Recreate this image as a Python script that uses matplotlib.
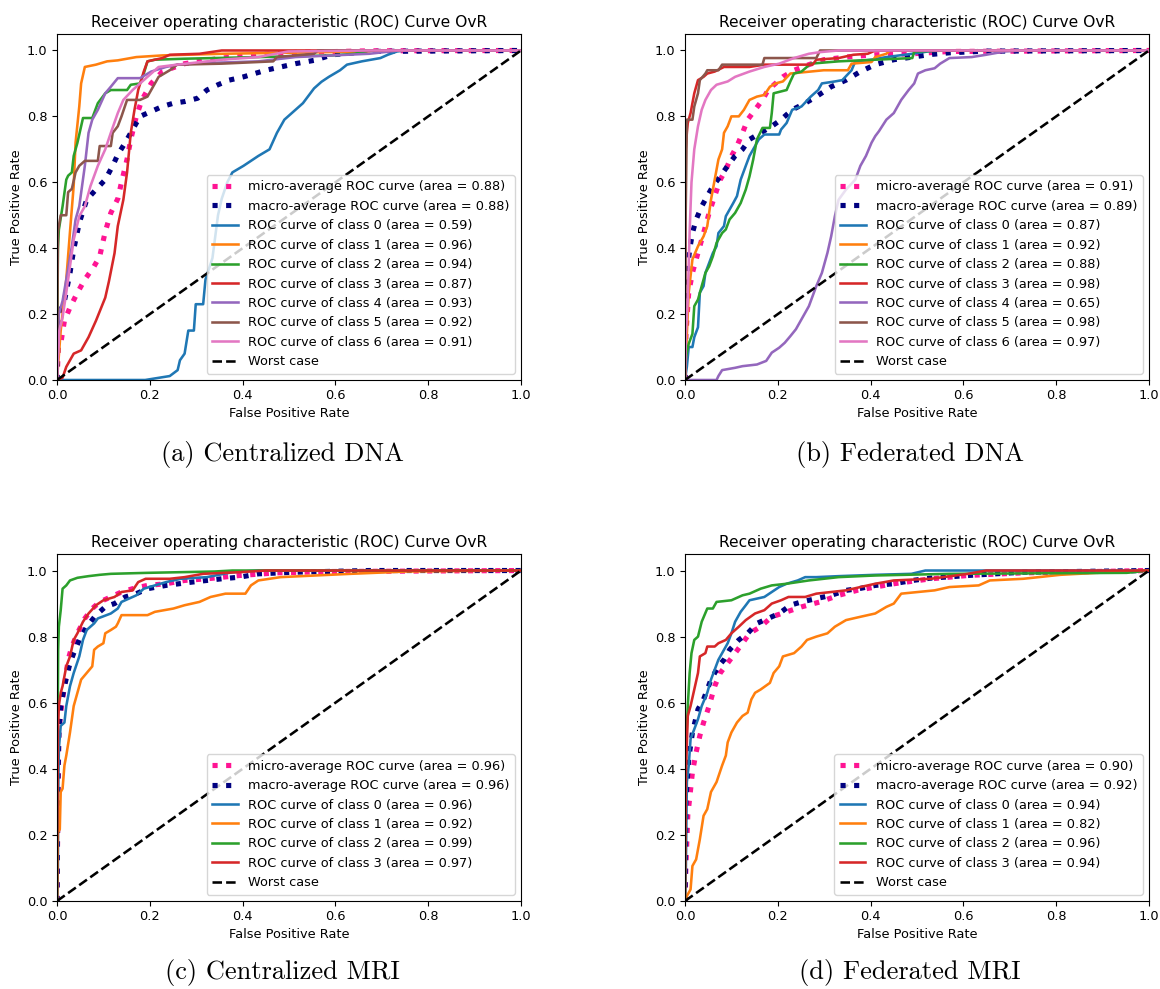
import numpy as np
import matplotlib
matplotlib.use("Agg")
import matplotlib.pyplot as plt

# ---- data: (fpr, tpr) vertices per curve ----
# (a) Centralized DNA
a_micro = [(0,0),(0.003,0.1),(0.008,0.11),(0.016,0.18),(0.028,0.22),(0.044,0.265),(0.06,0.305),(0.08,0.345),(0.092,0.375),(0.104,0.45),(0.116,0.507),(0.131,0.55),(0.139,0.6),(0.151,0.67),(0.159,0.73),(0.171,0.8),(0.183,0.85),(0.203,0.9),(0.227,0.936),(0.275,0.96),(0.355,0.977),(0.434,0.987),(0.514,0.994),(0.673,0.999),(1,1)]
a_macro = [(0,0),(0.003,0.2),(0.016,0.24),(0.028,0.325),(0.036,0.396),(0.048,0.477),(0.064,0.547),(0.084,0.578),(0.104,0.608),(0.12,0.65),(0.131,0.684),(0.147,0.72),(0.163,0.76),(0.179,0.8),(0.203,0.815),(0.227,0.83),(0.251,0.84),(0.275,0.845),(0.303,0.855),(0.323,0.88),(0.347,0.896),(0.371,0.91),(0.402,0.92),(0.426,0.93),(0.45,0.94),(0.482,0.95),(0.514,0.96),(0.554,0.97),(0.594,0.987),(0.673,0.997),(1,1)]
a_c0 = [(0,0),(0.19,0),(0.243,0.012),(0.26,0.03),(0.265,0.06),(0.275,0.08),(0.283,0.15),(0.295,0.15),(0.299,0.23),(0.315,0.23),(0.32,0.305),(0.335,0.37),(0.347,0.5),(0.355,0.55),(0.367,0.6),(0.378,0.63),(0.402,0.65),(0.434,0.68),(0.458,0.70),(0.474,0.75),(0.49,0.79),(0.506,0.81),(0.53,0.84),(0.554,0.885),(0.57,0.905),(0.586,0.92),(0.61,0.94),(0.625,0.957),(0.657,0.967),(0.697,0.977),(0.713,0.987),(0.733,0.997),(0.75,1),(1,1)]
a_c1 = [(0,0),(0.008,0.15),(0.02,0.305),(0.028,0.45),(0.036,0.59),(0.04,0.72),(0.048,0.83),(0.052,0.9),(0.06,0.95),(0.084,0.957),(0.108,0.967),(0.131,0.97),(0.171,0.98),(0.227,0.985),(0.355,0.99),(0.673,0.997),(0.68,1),(1,1)]
a_c2 = [(0,0),(0.002,0.4),(0.004,0.456),(0.012,0.527),(0.02,0.608),(0.024,0.62),(0.032,0.63),(0.036,0.68),(0.044,0.72),(0.056,0.795),(0.076,0.795),(0.088,0.84),(0.104,0.87),(0.116,0.88),(0.151,0.88),(0.159,0.896),(0.179,0.9),(0.187,0.93),(0.195,0.967),(0.211,0.972),(0.275,0.975),(0.434,0.98),(0.594,0.985),(0.641,0.99),(0.673,1),(1,1)]
a_c3 = [(0,0),(0.012,0.007),(0.02,0.04),(0.028,0.06),(0.036,0.08),(0.052,0.09),(0.068,0.13),(0.084,0.18),(0.104,0.25),(0.112,0.3),(0.124,0.385),(0.131,0.467),(0.143,0.547),(0.151,0.63),(0.159,0.75),(0.167,0.82),(0.175,0.88),(0.187,0.936),(0.195,0.967),(0.211,0.972),(0.227,0.977),(0.243,0.987),(0.307,0.99),(0.355,1),(1,1)]
a_c4 = [(0,0),(0.004,0.2),(0.012,0.24),(0.02,0.305),(0.032,0.406),(0.04,0.487),(0.048,0.527),(0.06,0.65),(0.068,0.75),(0.076,0.79),(0.088,0.82),(0.104,0.87),(0.116,0.89),(0.131,0.916),(0.179,0.916),(0.203,0.936),(0.235,0.95),(0.259,0.957),(0.323,0.962),(0.434,0.967),(0.514,0.98),(0.673,0.99),(0.737,1),(1,1)]
a_c5 = [(0,0),(0.002,0.45),(0.008,0.5),(0.02,0.5),(0.024,0.57),(0.032,0.58),(0.04,0.63),(0.048,0.65),(0.06,0.665),(0.088,0.665),(0.092,0.71),(0.116,0.71),(0.12,0.75),(0.131,0.77),(0.139,0.8),(0.151,0.85),(0.179,0.85),(0.195,0.86),(0.211,0.9),(0.219,0.92),(0.243,0.94),(0.259,0.957),(0.355,0.96),(0.466,0.967),(0.474,0.98),(0.554,0.99),(0.562,1),(1,1)]
a_c6 = [(0,0),(0.005,0.15),(0.012,0.19),(0.02,0.265),(0.028,0.345),(0.036,0.426),(0.048,0.497),(0.06,0.527),(0.072,0.588),(0.088,0.65),(0.104,0.7),(0.116,0.75),(0.131,0.81),(0.143,0.85),(0.163,0.88),(0.179,0.9),(0.203,0.93),(0.219,0.95),(0.259,0.957),(0.355,0.972),(0.434,0.98),(0.498,0.997),(0.673,1),(1,1)]
a_areas = [0.88, 0.88, 0.59, 0.96, 0.94, 0.87, 0.93, 0.92, 0.91]

# (b) Federated DNA
b_micro = [(0,0),(0.002,0.14),(0.008,0.265),(0.016,0.325),(0.028,0.386),(0.04,0.446),(0.052,0.507),(0.064,0.558),(0.076,0.608),(0.088,0.638),(0.1,0.679),(0.112,0.71),(0.124,0.75),(0.135,0.79),(0.151,0.82),(0.167,0.85),(0.179,0.88),(0.195,0.9),(0.211,0.92),(0.235,0.94),(0.267,0.957),(0.299,0.972),(0.347,0.98),(0.41,0.987),(0.49,0.99),(0.57,0.997),(1,1)]
b_macro = [(0,0),(0.002,0.245),(0.006,0.345),(0.01,0.396),(0.016,0.446),(0.024,0.487),(0.036,0.527),(0.048,0.558),(0.06,0.588),(0.076,0.618),(0.092,0.65),(0.108,0.68),(0.124,0.7),(0.139,0.73),(0.163,0.75),(0.187,0.77),(0.207,0.79),(0.231,0.82),(0.259,0.84),(0.283,0.86),(0.315,0.89),(0.347,0.91),(0.378,0.936),(0.41,0.957),(0.45,0.972),(0.49,0.98),(0.53,0.988),(0.57,0.993),(0.649,0.998),(1,1)]
b_c0 = [(0,0),(0.004,0.04),(0.008,0.1),(0.016,0.1),(0.02,0.13),(0.028,0.16),(0.032,0.265),(0.04,0.285),(0.044,0.325),(0.052,0.355),(0.06,0.385),(0.068,0.406),(0.072,0.446),(0.084,0.467),(0.088,0.497),(0.096,0.517),(0.104,0.537),(0.112,0.558),(0.12,0.608),(0.131,0.65),(0.139,0.68),(0.151,0.71),(0.159,0.73),(0.171,0.745),(0.203,0.745),(0.207,0.76),(0.219,0.78),(0.231,0.82),(0.251,0.83),(0.271,0.86),(0.287,0.88),(0.295,0.9),(0.323,0.906),(0.339,0.91),(0.359,0.94),(0.367,0.967),(0.402,0.972),(0.434,0.98),(0.49,0.99),(0.538,1),(1,1)]
b_c1 = [(0,0),(0.004,0.14),(0.008,0.265),(0.016,0.366),(0.028,0.406),(0.04,0.436),(0.048,0.467),(0.056,0.547),(0.064,0.608),(0.072,0.669),(0.08,0.7),(0.084,0.75),(0.092,0.77),(0.1,0.8),(0.116,0.8),(0.127,0.82),(0.139,0.85),(0.155,0.86),(0.171,0.865),(0.183,0.89),(0.195,0.9),(0.211,0.906),(0.227,0.93),(0.299,0.94),(0.351,0.94),(0.359,0.96),(0.402,0.965),(0.41,0.98),(0.434,0.99),(0.442,1),(1,1)]
b_c2 = [(0,0),(0.002,0.07),(0.008,0.11),(0.016,0.14),(0.02,0.224),(0.028,0.244),(0.036,0.285),(0.044,0.325),(0.052,0.345),(0.06,0.375),(0.068,0.416),(0.08,0.446),(0.088,0.457),(0.096,0.487),(0.108,0.507),(0.12,0.537),(0.131,0.578),(0.139,0.618),(0.147,0.669),(0.155,0.73),(0.167,0.765),(0.183,0.765),(0.187,0.81),(0.191,0.87),(0.219,0.88),(0.227,0.906),(0.235,0.93),(0.251,0.936),(0.271,0.96),(0.331,0.967),(0.41,0.972),(0.49,0.977),(0.494,0.997),(0.57,1),(1,1)]
b_c3 = [(0,0),(0.001,0.69),(0.004,0.75),(0.006,0.78),(0.012,0.81),(0.02,0.87),(0.028,0.91),(0.04,0.92),(0.048,0.93),(0.064,0.936),(0.084,0.95),(0.139,0.95),(0.171,0.957),(0.275,0.957),(0.283,0.972),(0.331,0.977),(0.363,0.987),(0.394,0.99),(0.41,1),(1,1)]
b_c4 = [(0,0),(0.068,0),(0.072,0.012),(0.08,0.03),(0.108,0.037),(0.124,0.042),(0.155,0.047),(0.175,0.058),(0.187,0.083),(0.203,0.098),(0.215,0.113),(0.227,0.133),(0.239,0.154),(0.251,0.184),(0.267,0.224),(0.283,0.285),(0.295,0.325),(0.307,0.386),(0.315,0.436),(0.323,0.497),(0.331,0.547),(0.347,0.578),(0.367,0.608),(0.378,0.65),(0.39,0.68),(0.402,0.72),(0.41,0.74),(0.418,0.755),(0.434,0.79),(0.45,0.81),(0.466,0.85),(0.482,0.88),(0.494,0.9),(0.502,0.93),(0.518,0.94),(0.538,0.946),(0.55,0.96),(0.57,0.977),(0.618,0.98),(0.649,0.987),(0.689,0.997),(0.729,1),(1,1)]
b_c5 = [(0,0),(0.001,0.45),(0.004,0.79),(0.016,0.79),(0.02,0.83),(0.028,0.87),(0.032,0.91),(0.044,0.93),(0.048,0.94),(0.072,0.94),(0.08,0.957),(0.167,0.957),(0.171,0.977),(0.283,0.977),(0.291,1),(1,1)]
b_c6 = [(0,0),(0.002,0.14),(0.006,0.245),(0.01,0.45),(0.014,0.6),(0.02,0.7),(0.028,0.77),(0.036,0.82),(0.044,0.85),(0.056,0.88),(0.068,0.896),(0.092,0.906),(0.108,0.92),(0.139,0.936),(0.171,0.95),(0.203,0.96),(0.235,0.977),(0.267,0.99),(0.291,0.995),(0.331,1),(1,1)]
b_areas = [0.91, 0.89, 0.87, 0.92, 0.88, 0.98, 0.65, 0.98, 0.97]

# (c) Centralized MRI
c_micro = [(0,0),(0.002,0.31),(0.004,0.51),(0.008,0.57),(0.016,0.65),(0.024,0.73),(0.032,0.77),(0.044,0.81),(0.06,0.855),(0.076,0.885),(0.092,0.905),(0.116,0.92),(0.139,0.935),(0.163,0.945),(0.195,0.955),(0.235,0.96),(0.275,0.97),(0.323,0.975),(0.394,0.985),(0.474,0.993),(0.594,0.997),(1,1)]
c_macro = [(0,0),(0.002,0.36),(0.004,0.51),(0.008,0.59),(0.016,0.65),(0.028,0.72),(0.036,0.75),(0.048,0.79),(0.064,0.83),(0.084,0.865),(0.104,0.89),(0.124,0.9),(0.147,0.92),(0.171,0.93),(0.195,0.945),(0.235,0.955),(0.291,0.965),(0.323,0.97),(0.355,0.975),(0.394,0.98),(0.434,0.99),(0.514,0.995),(0.673,1),(1,1)]
c_c0 = [(0,0),(0.002,0.106),(0.0025,0.31),(0.004,0.46),(0.008,0.53),(0.016,0.54),(0.02,0.59),(0.028,0.65),(0.036,0.69),(0.048,0.74),(0.056,0.79),(0.064,0.82),(0.08,0.84),(0.088,0.855),(0.116,0.87),(0.131,0.885),(0.139,0.905),(0.155,0.915),(0.171,0.925),(0.187,0.945),(0.211,0.955),(0.235,0.965),(0.267,0.975),(0.323,0.98),(0.378,0.995),(0.434,1),(1,1)]
c_c1 = [(0,0),(0.002,0.207),(0.006,0.217),(0.008,0.33),(0.012,0.34),(0.016,0.41),(0.02,0.44),(0.028,0.51),(0.036,0.59),(0.044,0.63),(0.052,0.67),(0.064,0.69),(0.076,0.71),(0.08,0.76),(0.088,0.77),(0.1,0.78),(0.104,0.81),(0.116,0.82),(0.127,0.83),(0.131,0.84),(0.139,0.865),(0.195,0.865),(0.211,0.875),(0.251,0.885),(0.275,0.895),(0.307,0.905),(0.331,0.92),(0.363,0.93),(0.406,0.93),(0.418,0.955),(0.434,0.97),(0.482,0.98),(0.633,0.99),(0.753,0.997),(1,1)]
c_c2 = [(0,0),(0.001,0.41),(0.0025,0.76),(0.004,0.83),(0.008,0.88),(0.012,0.945),(0.02,0.955),(0.028,0.97),(0.044,0.978),(0.068,0.983),(0.092,0.987),(0.116,0.99),(0.195,0.993),(0.339,0.997),(0.378,1),(1,1)]
c_c3 = [(0,0),(0.002,0.51),(0.004,0.59),(0.008,0.63),(0.012,0.65),(0.02,0.71),(0.028,0.74),(0.036,0.79),(0.044,0.81),(0.056,0.845),(0.068,0.87),(0.084,0.895),(0.1,0.91),(0.124,0.92),(0.139,0.935),(0.163,0.94),(0.175,0.965),(0.191,0.975),(0.243,0.975),(0.275,0.98),(0.315,0.99),(0.394,0.995),(0.45,1),(1,1)]
c_areas = [0.96, 0.96, 0.96, 0.92, 0.99, 0.97]

# (d) Federated MRI
d_micro = [(0,0),(0.002,0.106),(0.006,0.26),(0.01,0.31),(0.016,0.39),(0.024,0.45),(0.032,0.5),(0.04,0.54),(0.052,0.59),(0.064,0.65),(0.076,0.69),(0.092,0.72),(0.108,0.75),(0.124,0.78),(0.139,0.81),(0.163,0.83),(0.187,0.86),(0.219,0.875),(0.251,0.89),(0.291,0.905),(0.331,0.925),(0.371,0.94),(0.41,0.95),(0.45,0.96),(0.53,0.975),(0.61,0.985),(0.729,0.993),(1,1)]
d_macro = [(0,0),(0.002,0.31),(0.008,0.43),(0.016,0.51),(0.028,0.58),(0.04,0.61),(0.056,0.67),(0.072,0.71),(0.084,0.73),(0.096,0.76),(0.116,0.79),(0.135,0.81),(0.155,0.84),(0.179,0.855),(0.203,0.87),(0.227,0.895),(0.251,0.905),(0.283,0.915),(0.315,0.925),(0.347,0.94),(0.378,0.946),(0.41,0.955),(0.45,0.96),(0.49,0.97),(0.53,0.977),(0.61,0.985),(0.729,0.995),(1,1)]
d_c0 = [(0,0),(0.002,0.106),(0.004,0.36),(0.008,0.41),(0.012,0.49),(0.02,0.52),(0.028,0.55),(0.036,0.59),(0.048,0.63),(0.056,0.67),(0.064,0.7),(0.072,0.73),(0.08,0.75),(0.092,0.78),(0.1,0.81),(0.108,0.845),(0.12,0.875),(0.131,0.895),(0.139,0.91),(0.155,0.915),(0.171,0.92),(0.187,0.935),(0.203,0.95),(0.219,0.96),(0.243,0.97),(0.259,0.98),(0.283,0.98),(0.331,0.983),(0.41,0.987),(0.488,0.99),(0.518,1),(1,1)]
d_c1 = [(0,0),(0.004,0.015),(0.012,0.035),(0.016,0.106),(0.024,0.126),(0.032,0.187),(0.04,0.258),(0.048,0.278),(0.056,0.33),(0.068,0.36),(0.08,0.41),(0.088,0.44),(0.092,0.48),(0.1,0.51),(0.112,0.54),(0.124,0.56),(0.135,0.57),(0.143,0.61),(0.151,0.63),(0.163,0.64),(0.183,0.66),(0.191,0.69),(0.203,0.71),(0.211,0.74),(0.235,0.75),(0.251,0.77),(0.263,0.79),(0.283,0.80),(0.307,0.81),(0.323,0.83),(0.347,0.85),(0.378,0.86),(0.41,0.87),(0.434,0.89),(0.45,0.9),(0.466,0.93),(0.538,0.94),(0.57,0.95),(0.633,0.955),(0.657,0.97),(0.729,0.975),(0.809,0.987),(0.888,0.993),(1,1)]
d_c2 = [(0,0),(0.002,0.46),(0.006,0.59),(0.01,0.69),(0.014,0.75),(0.02,0.79),(0.028,0.8),(0.036,0.845),(0.048,0.885),(0.06,0.885),(0.068,0.905),(0.1,0.91),(0.124,0.925),(0.139,0.93),(0.163,0.945),(0.187,0.955),(0.219,0.96),(0.267,0.97),(0.331,0.98),(0.41,0.985),(0.57,0.99),(0.952,0.993),(1,1)]
d_c3 = [(0,0),(0.002,0.39),(0.006,0.56),(0.012,0.59),(0.02,0.64),(0.028,0.69),(0.032,0.74),(0.044,0.75),(0.048,0.77),(0.064,0.77),(0.072,0.78),(0.088,0.79),(0.1,0.81),(0.116,0.83),(0.131,0.85),(0.151,0.87),(0.171,0.88),(0.187,0.9),(0.207,0.91),(0.223,0.92),(0.259,0.92),(0.283,0.93),(0.315,0.935),(0.347,0.94),(0.378,0.95),(0.41,0.96),(0.45,0.97),(0.53,0.975),(0.61,0.99),(0.649,1),(1,1)]
d_areas = [0.90, 0.92, 0.94, 0.82, 0.96, 0.94]

captions = ["(a) Centralized DNA", "(b) Federated DNA", "(c) Centralized MRI", "(d) Federated MRI"]
class_colors = ["tab:blue", "tab:orange", "tab:green", "tab:red", "tab:purple", "tab:brown", "tab:pink"]

fs = 9.3
plt.rcParams['font.size'] = fs


def draw_panel(ax, micro, macro, classes, areas):
    x, y = np.array(micro).T
    ax.plot(x, y, color='deeppink', linestyle=':', linewidth=3.7,
            label='micro-average ROC curve (area = {0:0.2f})'.format(areas[0]))
    x, y = np.array(macro).T
    ax.plot(x, y, color='navy', linestyle=':', linewidth=3.7,
            label='macro-average ROC curve (area = {0:0.2f})'.format(areas[1]))
    for i, pts in enumerate(classes):
        x, y = np.array(pts).T
        ax.plot(x, y, color=class_colors[i], linewidth=1.85,
                label='ROC curve of class {0} (area = {1:0.2f})'.format(i, areas[i + 2]))
    ax.plot([0, 1], [0, 1], 'k--', linewidth=1.85, label='Worst case')
    ax.set_xlim([0.0, 1.0])
    ax.set_ylim([0.0, 1.05])
    ax.set_xlabel('False Positive Rate', fontsize=fs, labelpad=3)
    ax.set_ylabel('True Positive Rate', fontsize=fs, labelpad=3)
    ax.set_title('Receiver operating characteristic (ROC) Curve OvR', fontsize=11.2, pad=5)
    ax.tick_params(labelsize=fs, length=3.3)
    ax.legend(loc='lower right', fontsize=fs)


W, H = 1160, 989
fig = plt.figure(figsize=(W / 100, H / 100), dpi=100)

# axes boxes in pixels: left, top, right, bottom
boxes = [(57, 34, 521, 380), (685, 34, 1149, 380), (57, 554, 521, 901), (685, 554, 1149, 901)]
panels = [
    (a_micro, a_macro, [a_c0, a_c1, a_c2, a_c3, a_c4, a_c5, a_c6], a_areas),
    (b_micro, b_macro, [b_c0, b_c1, b_c2, b_c3, b_c4, b_c5, b_c6], b_areas),
    (c_micro, c_macro, [c_c0, c_c1, c_c2, c_c3], c_areas),
    (d_micro, d_macro, [d_c0, d_c1, d_c2, d_c3], d_areas),
]
caption_pos = [(282, 455), (910, 455), (282, 973), (910, 973)]

for box, p, cap, cp in zip(boxes, panels, captions, caption_pos):
    l, t, r, b = box
    ax = fig.add_axes([l / W, 1 - b / H, (r - l) / W, (b - t) / H])
    draw_panel(ax, *p)
    fig.text(cp[0] / W, 1 - cp[1] / H, cap, fontfamily='cmr10', fontsize=19,
             ha='center', va='center')

fig.savefig('out.png', dpi=100)
